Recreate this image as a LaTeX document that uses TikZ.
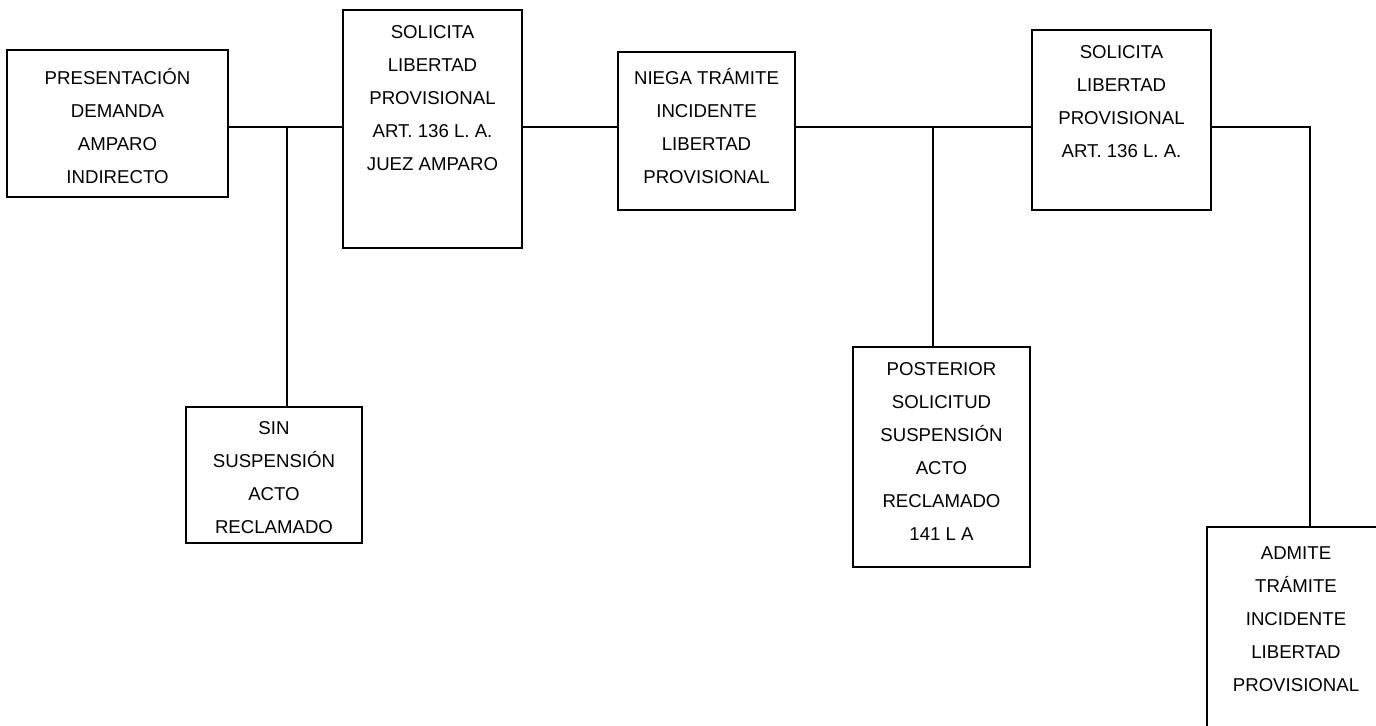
\documentclass[tikz,border=0pt]{standalone}
\usepackage{fontspec}
\setmainfont{Liberation Sans}
\usetikzlibrary{positioning}

\begin{document}
\begin{tikzpicture}[x=0.02cm, y=-0.02cm,
    caja/.style={draw, line width=1pt, inner sep=0pt},
    texto/.style={align=center, inner sep=0pt, font=\fontsize{10.6}{18.8}\selectfont},
    linea/.style={line width=0.9pt}]
    \path[use as bounding box, clip] (0,0) rectangle (1376,725);
    \coordinate (eje) at (0,127);
    \coordinate (nudo1) at (287,127);
    \coordinate (nudo2) at (933,127);
    \coordinate (nudo3) at (1310,127);

    % cajas
    \node[caja, minimum width=4.42cm, minimum height=2.94cm] (demanda) at (117.5,123.5) {};
    \node[texto, below=0.38cm of demanda.north] (demanda-t) {PRESENTACIÓN\\DEMANDA\\AMPARO\\INDIRECTO};

    \node[caja, minimum width=3.58cm, minimum height=4.76cm] (solicita1) at (432.5,129) {};
    \node[texto, below=0.32cm of solicita1.north] (solicita1-t) {SOLICITA\\LIBERTAD\\PROVISIONAL\\ART. 136 L. A.\\JUEZ AMPARO};

    \node[caja, minimum width=3.52cm, minimum height=2.72cm] (sin) at (274,475) {};
    \node[texto, below=0.3cm of sin.north] (sin-t) {SIN\\SUSPENSIÓN\\ACTO\\RECLAMADO};

    \node[caja, minimum width=3.54cm, minimum height=3.16cm] (niega) at (706.5,131) {};
    \node[texto, below=0.34cm of niega.north] (niega-t) {NIEGA TRÁMITE\\INCIDENTE\\LIBERTAD\\PROVISIONAL};

    \node[caja, minimum width=3.58cm, minimum height=3.6cm] (solicita2) at (1121.5,120) {};
    \node[texto, below=0.32cm of solicita2.north] (solicita2-t) {SOLICITA\\LIBERTAD\\PROVISIONAL\\ART. 136 L. A.};

    \node[caja, minimum width=3.54cm, minimum height=4.4cm] (posterior) at (941.5,457) {};
    \node[texto, below=0.32cm of posterior.north] (posterior-t) {POSTERIOR\\SOLICITUD\\SUSPENSIÓN\\ACTO\\RECLAMADO\\141 L A};

    \node[caja, minimum width=3.56cm, minimum height=4.66cm] (admite) at (1296,643.5) {};
    \node[texto, below=0.4cm of admite.north] (admite-t) {ADMITE\\TRÁMITE\\INCIDENTE\\LIBERTAD\\PROVISIONAL};

    % lineas
    \draw[linea] (demanda.east |- eje) -- (solicita1.west |- eje);
    \draw[linea] (nudo1) -- (nudo1 |- sin.north);
    \draw[linea] (solicita1.east |- eje) -- (niega.west |- eje);
    \draw[linea] (niega.east |- eje) -- (solicita2.west |- eje);
    \draw[linea] (nudo2) -- (nudo2 |- posterior.north);
    \draw[linea] (solicita2.east |- eje) -| (nudo3 |- admite.north);
\end{tikzpicture}
\end{document}
